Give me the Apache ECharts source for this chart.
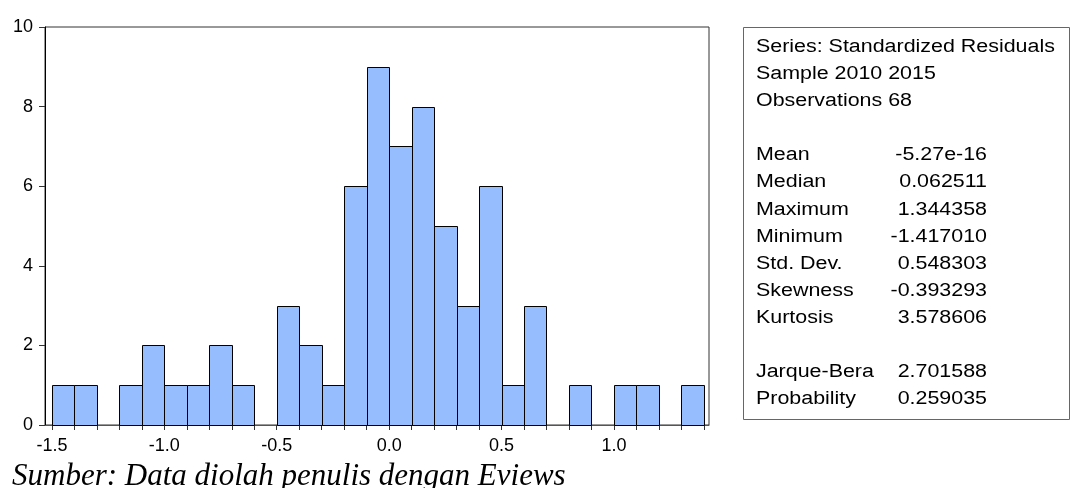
<!DOCTYPE html>
<html>
<head>
<meta charset="utf-8">
<script src="https://cdn.jsdelivr.net/npm/echarts@6/dist/echarts.min.js"></script>
<style>html,body{margin:0;padding:0;background:#fff;}#c{width:1072px;height:488px;}</style>
</head>
<body>
<div id="c"></div>
<script>
// Histogram bins (lower edge, upper edge) and counts
const binLower = [-1.5,-1.4,-1.3,-1.2,-1.1,-1.0,-0.9,-0.8,-0.7,-0.6,-0.5,-0.4,-0.3,-0.2,-0.1,0.0,0.1,0.2,0.3,0.4,0.5,0.6,0.7,0.8,0.9,1.0,1.1,1.2,1.3];
const binUpper = [-1.4,-1.3,-1.2,-1.1,-1.0,-0.9,-0.8,-0.7,-0.6,-0.5,-0.4,-0.3,-0.2,-0.1,0.0,0.1,0.2,0.3,0.4,0.5,0.6,0.7,0.8,0.9,1.0,1.1,1.2,1.3,1.4];
const counts   = [1,1,0,1,2,1,1,2,1,0,3,2,1,6,9,7,8,5,3,6,1,3,0,1,0,1,1,0,1];
const xTickValues  = [-1.5,-1.4,-1.3,-1.2,-1.1,-1.0,-0.9,-0.8,-0.7,-0.6,-0.5,-0.4,-0.3,-0.2,-0.1,0.0,0.1,0.2,0.3,0.4,0.5,0.6,0.7,0.8,0.9,1.0,1.1,1.2,1.3,1.4];
const xLabelValues = [-1.5,-1.0,-0.5,0.0,0.5,1.0];
const statLabels = ["Mean","Median","Maximum","Minimum","Std. Dev.","Skewness","Kurtosis","","Jarque-Bera","Probability"];
const statValues = ["-5.27e-16","0.062511","1.344358","-1.417010","0.548303","-0.393293","3.578606","","2.701588","0.259035"];
const headerLines = ["Series: Standardized Residuals","Sample 2010 2015","Observations 68"];
const caption = "Sumber: Data diolah penulis dengan Eviews";

const data = binLower.map((lo, i) => [lo, binUpper[i], counts[i]]);

const chart = echarts.init(document.getElementById('c'), null, {renderer: 'canvas'});

const FONT = '"Liberation Sans", Arial, sans-serif';
const graphics = [];
graphics.push({
  type: 'rect', shape: {x: 743.5, y: 27.5, width: 326, height: 392},
  style: {fill: '#fff', stroke: '#666', lineWidth: 1}
});
const y0 = 47, step = 27.1;
const rows = headerLines.map(t => [t, '']).concat([['', '']]).concat(statLabels.map((l, i) => [l, statValues[i]]));
rows.forEach((r, i) => {
  const y = y0 + i * step;
  if (r[0]) graphics.push({type: 'text', x: 756, y: y, scaleX: 1.19,
    style: {text: r[0], font: '18px ' + FONT, fill: '#000', textVerticalAlign: 'middle', textAlign: 'left'}});
  if (r[1]) graphics.push({type: 'text', x: 987, y: y, scaleX: 1.19,
    style: {text: r[1], font: '18px ' + FONT, fill: '#000', textVerticalAlign: 'middle', textAlign: 'right'}});
});
graphics.push({type: 'text', x: 12, y: 477,
  style: {text: caption, font: 'italic 31px "Liberation Serif", "Times New Roman", serif', fill: '#000', textVerticalAlign: 'middle', textAlign: 'left'}});

chart.setOption({
  animation: false,
  backgroundColor: '#fff',
  grid: {left: 45, right: 363, top: 27, bottom: 63, show: true, borderColor: '#333', borderWidth: 1, containLabel: false},
  xAxis: {
    type: 'value', min: -1.531, max: 1.423,
    axisLine: {show: true, onZero: false, lineStyle: {color: '#555', width: 1}},
    axisTick: {show: true, length: 5, customValues: xTickValues, lineStyle: {color: '#333'}},
    axisLabel: {show: true, customValues: xLabelValues, margin: 12, color: '#000', fontSize: 18, fontFamily: FONT,
      formatter: v => Number(v).toFixed(1)},
    splitLine: {show: false}
  },
  yAxis: {
    type: 'value', min: 0, max: 10, interval: 2,
    axisLine: {show: true, onZero: false, lineStyle: {color: '#000', width: 1}},
    axisTick: {show: true, length: 6, lineStyle: {color: '#333'}},
    axisLabel: {margin: 12, color: '#000', fontSize: 18, fontFamily: FONT},
    splitLine: {show: false}
  },
  series: [{
    type: 'custom',
    data: data,
    encode: {x: [0, 1], y: 2},
    renderItem: function (params, api) {
      const c = api.value(2);
      if (!c) return null;
      const p1 = api.coord([api.value(0), c]);
      const p2 = api.coord([api.value(1), 0]);
      return {
        type: 'rect',
        shape: {x: Math.round(p1[0]) + 0.5, y: Math.round(p1[1]) + 0.5, width: Math.round(p2[0]) - Math.round(p1[0]), height: Math.round(p2[1]) - Math.round(p1[1])},
        style: {fill: '#96BEFF', stroke: '#000', lineWidth: 1}
      };
    }
  }],
  graphic: graphics
});
</script>
</body>
</html>
